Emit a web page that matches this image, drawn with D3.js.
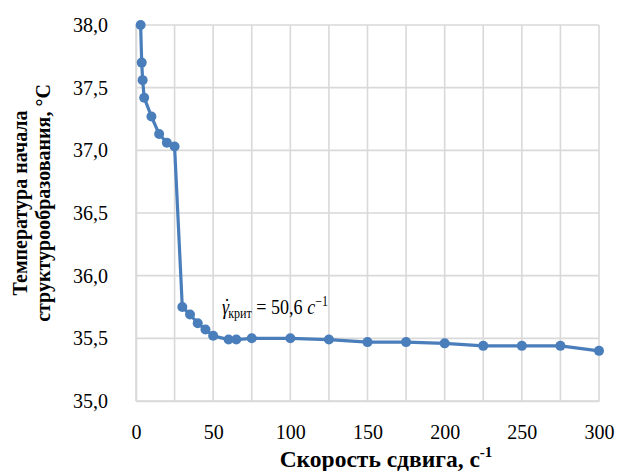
<!DOCTYPE html>
<html>
<head>
<meta charset="utf-8">
<script src="https://cdn.jsdelivr.net/npm/d3@7/dist/d3.min.js"></script>
<style>
  html, body { margin: 0; padding: 0; background: #fff; }
  svg { display: block; }
</style>
</head>
<body>
<svg id="chart" width="620" height="471"></svg>
<script>
// Shear rate, 1/s
const shearRate = [3, 3.7, 4.3, 5.3, 10, 15, 20, 25, 30, 35, 40, 45, 50, 60, 65, 75, 100, 125, 150, 175, 200, 225, 250, 275, 300];
// Onset temperature of structure formation, °C
const onsetTemp = [38.0, 37.70, 37.56, 37.42, 37.27, 37.13, 37.06, 37.03, 35.75, 35.69, 35.62, 35.57, 35.52, 35.49, 35.49, 35.50, 35.50, 35.49, 35.47, 35.47, 35.46, 35.44, 35.44, 35.44, 35.40];

const xTicks = [0, 50, 100, 150, 200, 250, 300];
const xGrid = [0, 25, 50, 75, 100, 125, 150, 175, 200, 225, 250, 275, 300];
const yTicks = [35.0, 35.5, 36.0, 36.5, 37.0, 37.5, 38.0];

const SERIF = "'Liberation Serif', 'Times New Roman', serif";
const svg = d3.select("#chart").style("font-family", SERIF);
const x = d3.scaleLinear().domain([0, 300]).range([136, 599]);
const y = d3.scaleLinear().domain([35, 38]).range([401, 25]);
const fmt = v => v.toFixed(1).replace(".", ",");

// grid
const grid = svg.append("g").attr("stroke", "#d9d9d9").attr("stroke-width", 1.6);
grid.selectAll("line.v").data(xGrid).join("line")
  .attr("x1", d => x(d)).attr("x2", d => x(d))
  .attr("y1", y(38)).attr("y2", y(35));
grid.selectAll("line.h").data(yTicks).join("line")
  .attr("x1", x(0)).attr("x2", x(300))
  .attr("y1", d => y(d)).attr("y2", d => y(d));

// axes
const xAxis = svg.append("g").attr("transform", `translate(0,${y(35)})`)
  .call(d3.axisBottom(x).tickValues(xTicks).tickSize(0).tickPadding(24).tickFormat(d3.format("d")));
const yAxis = svg.append("g").attr("transform", `translate(${x(0)},0)`)
  .call(d3.axisLeft(y).tickValues(yTicks).tickSize(0).tickPadding(28).tickFormat(fmt));
[xAxis, yAxis].forEach(a => {
  a.attr("font-family", null).attr("font-size", null);
  a.select(".domain").attr("stroke", "#d9d9d9").attr("stroke-width", 1.6);
  a.selectAll("text").style("font-family", SERIF).style("font-size", "20px").attr("fill", "#000");
});

// series
const pts = shearRate.map((s, i) => [s, onsetTemp[i]]);
svg.append("path").datum(pts)
  .attr("fill", "none").attr("stroke", "#4a7ebb").attr("stroke-width", 3.2)
  .attr("stroke-linejoin", "round")
  .attr("d", d3.line().x(d => x(d[0])).y(d => y(d[1])));
svg.append("g").selectAll("circle").data(pts).join("circle")
  .attr("cx", d => x(d[0])).attr("cy", d => y(d[1])).attr("r", 5)
  .attr("fill", "#4a7ebb");

// critical shear rate note
const note = svg.append("text").attr("x", 222).attr("y", 314)
  .style("font-family", SERIF).style("font-size", "21px")
  .attr("textLength", 106).attr("lengthAdjust", "spacingAndGlyphs");
note.append("tspan").attr("font-style", "italic").text("γ");
note.append("tspan").attr("dx", -6).attr("dy", -1).text("\u02D9");
note.append("tspan").style("font-size", "14px").attr("dx", -2).attr("dy", 5).text("крит");
note.append("tspan").attr("dy", -4).text(" = 50,6 ");
note.append("tspan").attr("font-style", "italic").text("с");
note.append("tspan").style("font-size", "14px").attr("dy", -8).text("−1");

// axis titles
const xt = svg.append("text").attr("x", 386).attr("y", 467)
  .attr("text-anchor", "middle").style("font-size", "23.5px").attr("font-weight", "bold");
xt.append("tspan").text("Скорость сдвига, с");
xt.append("tspan").style("font-size", "15px").attr("dy", -10).text("-1");

const yt = svg.append("text").attr("transform", "translate(0,203) rotate(-90)")
  .attr("text-anchor", "middle").style("font-size", "20px").attr("font-weight", "bold");
yt.append("tspan").attr("x", 0).attr("y", 27).text("Температура начала");
yt.append("tspan").attr("x", 0).attr("y", 50).text("структурообразования, °С");
</script>
</body>
</html>
